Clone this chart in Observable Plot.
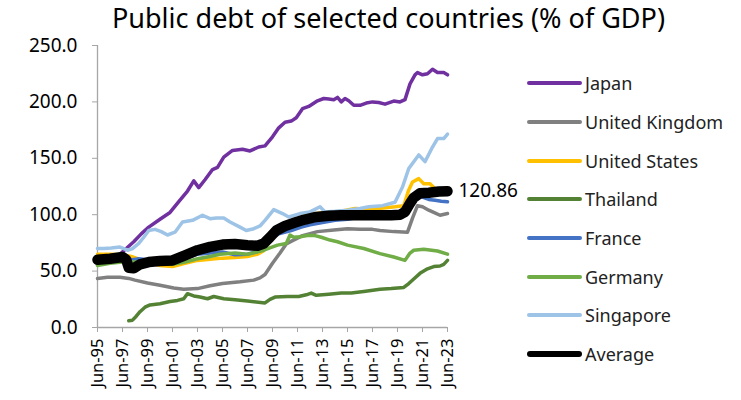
<!DOCTYPE html>
<html>
<head>
<meta charset="utf-8">
<script src="https://cdn.jsdelivr.net/npm/d3@7"></script>
<script src="https://cdn.jsdelivr.net/npm/@observablehq/plot@0.6"></script>
<style>
  body { margin: 0; background: #fff; }
  #wrap { position: relative; width: 741px; height: 400px; font-family: "Noto Sans", sans-serif; color: #000; }
  #title { height: 36px; line-height: 36px; font-size: 27px; text-align: center; padding-left: 36px; box-sizing: border-box; width: 741px; white-space: nowrap; }
  #legend { position: absolute; left: 527px; top: 64px; }
  .row { height: 38.7px; display: flex; align-items: center; font-size: 18px; color: #222; white-space: nowrap; }
  .sw { width: 55px; margin-right: 3px; border-radius: 3px; }
</style>
</head>
<body>
<div id="wrap">
  <div id="title">Public debt of selected countries (% of GDP)</div>
  <div id="chart"></div>
  <div id="legend"></div>
</div>
<script>
const seriesNames = ["Japan", "United Kingdom", "United States", "Thailand", "France", "Germany", "Singapore", "Average"];
const seriesColors = ["#7030A0", "#808080", "#FFC000", "#548235", "#4472C4", "#70AD47", "#9DC3E6", "#000000"];

const japan = [[1997.4,66],[1997.8,70],[1998.4,76],[1999.0,83],[1999.6,89],[2000.5,96],[2001.3,102],[2002.1,113],[2002.7,121],[2003.2,130],[2003.6,124],[2004.1,131],[2004.7,140],[2005.1,142],[2005.6,151],[2006.3,157],[2007.1,158],[2007.7,156.5],[2008.4,160],[2008.9,161],[2009.5,169],[2010.0,177],[2010.5,182],[2011.0,183],[2011.4,186],[2011.9,194],[2012.4,196],[2013.1,201],[2013.6,203],[2014.0,202.5],[2014.4,202],[2014.7,204],[2015.0,200],[2015.3,203],[2015.6,201],[2016.0,197],[2016.5,197],[2017.0,199],[2017.5,200],[2018.0,199.5],[2018.5,198],[2019.2,200.7],[2019.7,200],[2020.1,202],[2020.5,216],[2020.9,224],[2021.1,226],[2021.5,224],[2021.9,225],[2022.3,229],[2022.7,226],[2023.2,226],[2023.5,224]];
const unitedKingdom = [[1995.5,43.5],[1996.3,44.5],[1997.3,44.5],[1998.0,43.5],[1998.5,42],[1999.5,39.5],[2000.5,37.5],[2001.6,35],[2002.4,34],[2003.5,34.5],[2004.5,37],[2005.5,39],[2006.9,40.5],[2008.0,42],[2008.5,44],[2008.9,47],[2009.5,57],[2010.1,66],[2010.6,74],[2011.1,77],[2011.9,81.5],[2013.1,85],[2014.4,86.5],[2015.5,87.5],[2016.5,87],[2017.5,87],[2018.1,86],[2019.2,85],[2020.3,84.5],[2020.7,97],[2021.1,108],[2021.5,107],[2022.0,104],[2022.4,102],[2022.9,99.5],[2023.5,101]];
const unitedStates = [[1995.5,65],[1996.5,65],[1997.5,64.5],[1998.2,63],[1998.7,61],[1999.5,58],[2000.5,55],[2001.5,54],[2002.5,57],[2003.5,59.5],[2004.5,60.5],[2005.5,61.5],[2006.5,62],[2007.5,63],[2008.3,65],[2008.8,68],[2009.3,77],[2009.8,84],[2010.5,90],[2011.3,95],[2012.0,99],[2013.0,101],[2014.0,102],[2015.0,103],[2016.1,105.5],[2017.0,105],[2018.0,105.5],[2019.3,107],[2020.0,108],[2020.4,122],[2020.7,129],[2021.2,132],[2021.6,127.5],[2022.1,127.5],[2022.5,123],[2023.0,121],[2023.5,121]];
const thailand = [[1998.0,6],[1998.3,6.5],[1998.6,10],[1998.9,14],[1999.3,18],[1999.7,20],[2000.5,21],[2001.3,23],[2001.9,24],[2002.4,25.5],[2002.7,30],[2003.2,28],[2003.7,27],[2004.3,25.5],[2004.8,27.5],[2005.6,25.5],[2006.5,24.5],[2007.5,23.5],[2008.9,21.8],[2009.3,25],[2009.7,27],[2010.7,27.5],[2011.6,27.5],[2012.2,29],[2012.6,30.5],[2013.0,28.5],[2014.0,29.5],[2015.0,30.5],[2015.8,30.5],[2016.8,32],[2018.1,34],[2019.0,34.5],[2020.0,35.5],[2020.4,39],[2020.8,43],[2021.3,48],[2021.9,52],[2022.4,54],[2022.9,54.5],[2023.2,56],[2023.5,59.5]];
const france = [[1995.5,58],[1996.5,60],[1997.5,61],[1998.3,60],[1998.8,61],[1999.5,60],[2000.5,59],[2001.5,59],[2002.5,61],[2003.5,65],[2004.5,66],[2005.5,67],[2006.5,64.5],[2007.5,65],[2008.5,68],[2009.3,79],[2010.0,83],[2011.0,86],[2011.8,89],[2012.5,91],[2013.5,93],[2014.5,95],[2015.5,96],[2016.5,98],[2017.5,98.5],[2018.5,98],[2019.5,98],[2020.0,101],[2020.5,114],[2021.0,116],[2021.5,115.5],[2022.0,113.5],[2022.5,112.8],[2023.0,112],[2023.5,111.5]];
const germany = [[1995.5,55],[1996.5,57],[1997.5,58],[1998.5,58],[1999.5,58],[2000.5,57],[2001.5,56],[2002.5,58],[2003.5,61],[2004.5,63],[2005.3,65],[2006.5,66],[2007.5,65],[2008.3,67],[2008.8,68.5],[2009.4,71],[2009.9,73],[2010.6,74.5],[2010.9,82],[2011.2,80],[2011.7,80.5],[2012.3,81.5],[2012.9,81.5],[2013.4,80],[2014.1,77.5],[2014.7,76],[2015.5,73],[2016.8,70],[2018.1,65.5],[2019.2,62.5],[2020.1,59.5],[2020.5,66],[2020.8,68.5],[2021.6,69.3],[2022.7,67.8],[2023.5,65]];
const singapore = [[1995.5,70],[1996.0,70],[1996.6,70.5],[1997.3,71.3],[1997.9,68.5],[1998.3,70],[1998.8,74.5],[1999.2,80],[1999.6,86],[2000.1,87],[2000.6,85],[2001.1,82],[2001.7,84.5],[2002.3,93.5],[2003.1,95],[2003.9,99.5],[2004.5,96.5],[2005.0,97],[2005.6,97],[2006.1,93.5],[2006.9,89],[2007.4,86],[2008.0,87.6],[2008.5,90],[2008.9,95],[2009.6,104.5],[2010.3,101],[2010.8,98],[2011.7,101],[2012.5,102.5],[2013.3,107],[2013.7,102.5],[2014.5,103],[2015.5,104],[2016.5,105.5],[2017.2,107],[2018.3,108],[2019.3,111],[2019.9,124.5],[2020.4,141],[2020.8,147],[2021.2,153],[2021.7,147],[2022.3,160],[2022.7,167.5],[2023.2,167.5],[2023.5,171.5]];
const average = [[1995.5,60],[1996.5,61],[1997.5,62.5],[1997.8,60],[1998.0,53],[1998.4,52.5],[1998.9,56],[1999.6,58],[2000.5,59],[2001.5,59.5],[2002.5,64],[2003.5,68.5],[2004.5,71.5],[2005.5,73.5],[2006.5,74],[2007.5,73],[2008.3,72.5],[2008.8,74.5],[2009.3,80],[2009.8,86],[2010.5,90],[2011.3,93],[2012.0,95.5],[2013.0,98],[2014.0,99],[2015.0,99.5],[2016.0,99.5],[2017.0,99.5],[2018.0,99.5],[2019.0,99.5],[2019.7,100],[2020.1,102.5],[2020.5,110],[2020.8,115],[2021.3,119],[2022.0,119.5],[2022.8,120.5],[2023.5,120.86]];

const seriesData = [japan, unitedKingdom, unitedStates, thailand, france, germany, singapore, average];
const xTicks = [1995.5,1997.5,1999.5,2001.5,2003.5,2005.5,2007.5,2009.5,2011.5,2013.5,2015.5,2017.5,2019.5,2021.5,2023.5];
const yTicks = [0, 50, 100, 150, 200, 250];
const endLabel = "120.86";

const FONT = '"Noto Sans", sans-serif';
const axisColor = "#A6A6A6";

const lineMarks = seriesData.map((arr, i) => Plot.line(arr.map(([t, v]) => ({t, v})), {
  x: "t", y: "v",
  stroke: seriesColors[i],
  strokeWidth: seriesNames[i] === "Average" ? 10.5 : 3.5,
  strokeLinejoin: "round", strokeLinecap: "round"
}));

const last = average[average.length - 1];

const chart = Plot.plot({
  width: 741, height: 364,
  marginLeft: 97, marginRight: 294, marginTop: 9, marginBottom: 73,
  style: { fontFamily: FONT, fontSize: "16px", color: "#000", background: "white", overflow: "visible" },
  x: { domain: [1995.5, 2023.5], ticks: xTicks },
  y: { domain: [0, 250], ticks: yTicks },
  marks: [
    Plot.ruleX([1995.5], { stroke: axisColor, strokeWidth: 1.3 }),
    Plot.ruleY([0], { stroke: axisColor, strokeWidth: 1.3 }),
    Plot.axisY({ ticks: yTicks, tickFormat: d => d.toFixed(1), tickSize: 5, tickPadding: 15, stroke: axisColor, fill: "#000", fontSize: 19, label: null }),
    Plot.axisX({ ticks: xTicks, tickFormat: d => "Jun-" + String(Math.floor(d) % 100).padStart(2, "0"), tickSize: 5, tickPadding: 6, tickRotate: -90, stroke: axisColor, fill: "#000", fontSize: 16.5, label: null }),
    ...lineMarks,
    Plot.text([{t: last[0], v: last[1]}], { x: "t", y: "v", text: () => endLabel, dx: 11, textAnchor: "start", fontSize: 19, fill: "#000" })
  ]
});
document.getElementById("chart").appendChild(chart);

const legend = document.getElementById("legend");
seriesNames.forEach((name, i) => {
  const row = document.createElement("div");
  row.className = "row";
  const sw = document.createElement("div");
  sw.className = "sw";
  sw.style.background = seriesColors[i];
  sw.style.height = name === "Average" ? "6px" : "4px";
  const lab = document.createElement("span");
  lab.textContent = name;
  row.appendChild(sw); row.appendChild(lab);
  legend.appendChild(row);
});
</script>
</body>
</html>
